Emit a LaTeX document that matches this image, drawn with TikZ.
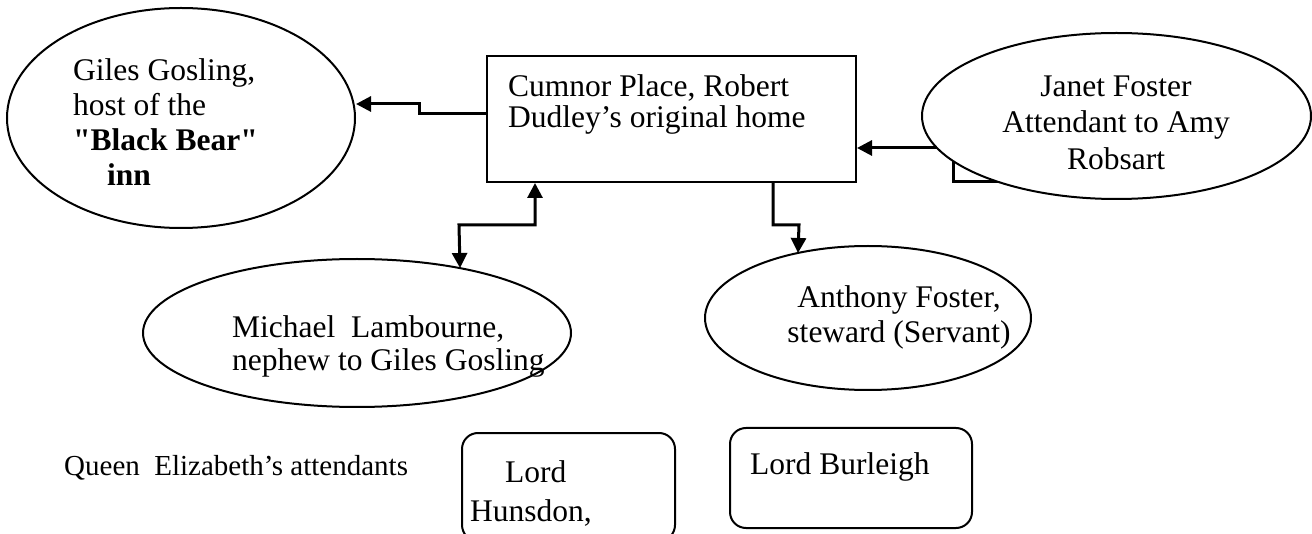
\documentclass[tikz,border=0pt]{standalone}
\usepackage{fontspec}
\setmainfont{Liberation Serif}
\newfontfamily\plainserif{Liberation Serif}
\usetikzlibrary{shapes.geometric,arrows.meta,backgrounds}
\begin{document}
\begin{tikzpicture}[x=1pt,y=-1pt,
  shapeline/.style={draw=black,line width=2pt,fill=white},
  oval/.style={shapeline,ellipse,inner sep=0pt},
  box/.style={shapeline,rectangle,inner sep=0pt},
  rbox/.style={shapeline,rectangle,rounded corners=16pt,inner sep=0pt},
  txt/.style={inner sep=0pt,anchor=north west,align=left,font=\fontsize{31.5}{35}\selectfont},
  ctxt/.style={inner sep=0pt,anchor=north,align=center,font=\fontsize{31.5}{35}\selectfont},
  conn/.style={draw=black,line width=3pt,-{Triangle[length=15pt,width=15pt]}},
  conn2/.style={draw=black,line width=3pt,{Triangle[length=15pt,width=15pt]}-{Triangle[length=15pt,width=15pt]}}
]
\useasboundingbox (0,0) rectangle (1312,534);

% shapes
\node[oval,minimum width=348pt,minimum height=220pt] (giles) at (181,118) {};
\node[box,minimum width=369pt,minimum height=126pt] (cumnor) at (671.5,119) {};
\node[oval,minimum width=389pt,minimum height=166pt] (janet) at (1116.5,116) {};
\node[oval,minimum width=428pt,minimum height=148pt] (michael) at (357,333) {};
\node[oval,minimum width=326pt,minimum height=144pt] (anthony) at (868,318) {};
\node[rbox,minimum width=213pt,minimum height=108pt] (hunsdon) at (568.5,487) {};
\node[rbox,minimum width=242pt,minimum height=100pt] (burleigh) at (851,478) {};

% texts
\node[txt] (gilesT) at (73,58) {Giles Gosling,\\host of the\\{\plainserif\bfseries "Black Bear"}\\\hspace*{34pt}\textbf{inn}};
\node[txt,font=\fontsize{31.5}{31}\selectfont] (cumnorT) at (508,74.5) {Cumnor Place, Robert\\Dudley’s original home};
\node[ctxt,font=\fontsize{31.5}{36.5}\selectfont] (janetT) at (1116,75.5) {Janet Foster\\Attendant to Amy\\Robsart};
\node[txt,font=\fontsize{31.5}{33}\selectfont] (michaelT) at (232,315) {Michael\ \ Lambourne,\\nephew to Giles Gosling};
\node[ctxt] (anthonyT) at (899,285) {Anthony Foster,\\steward (Servant)};
\node[txt,font=\fontsize{29}{33}\selectfont] (queenT) at (64,455) {Queen\ \ Elizabeth’s attendants};
\node[txt,font=\fontsize{31.5}{39}\selectfont] (hunsdonT) at (470,460.5) {\hspace*{35pt}Lord\\Hunsdon,};
\node[txt] (burleighT) at (750,452) {Lord Burleigh};

% connectors
\draw[conn] ([yshift=5pt]cumnor.west) -- ++(-67,0) -- ++(0,-10) -- ([yshift=14pt]giles.east);
\begin{scope}[on background layer]
\draw[conn] ([xshift=-116pt,yshift=-66pt]janet.center) -- ++(-47,0) -- ++(0,-34) -- ([yshift=-29pt]cumnor.east);
\end{scope}
\draw[conn2] ([xshift=49pt]cumnor.south west) -- ++(0,42) -- ++(-76,0) -- ([xshift=103pt,yshift=65pt]michael.center);
\draw[conn] ([xshift=-84pt]cumnor.south east) -- ++(0,42) -- ++(26,0) -- ([xshift=-70pt,yshift=65pt]anthony.center);
\end{tikzpicture}
\end{document}
